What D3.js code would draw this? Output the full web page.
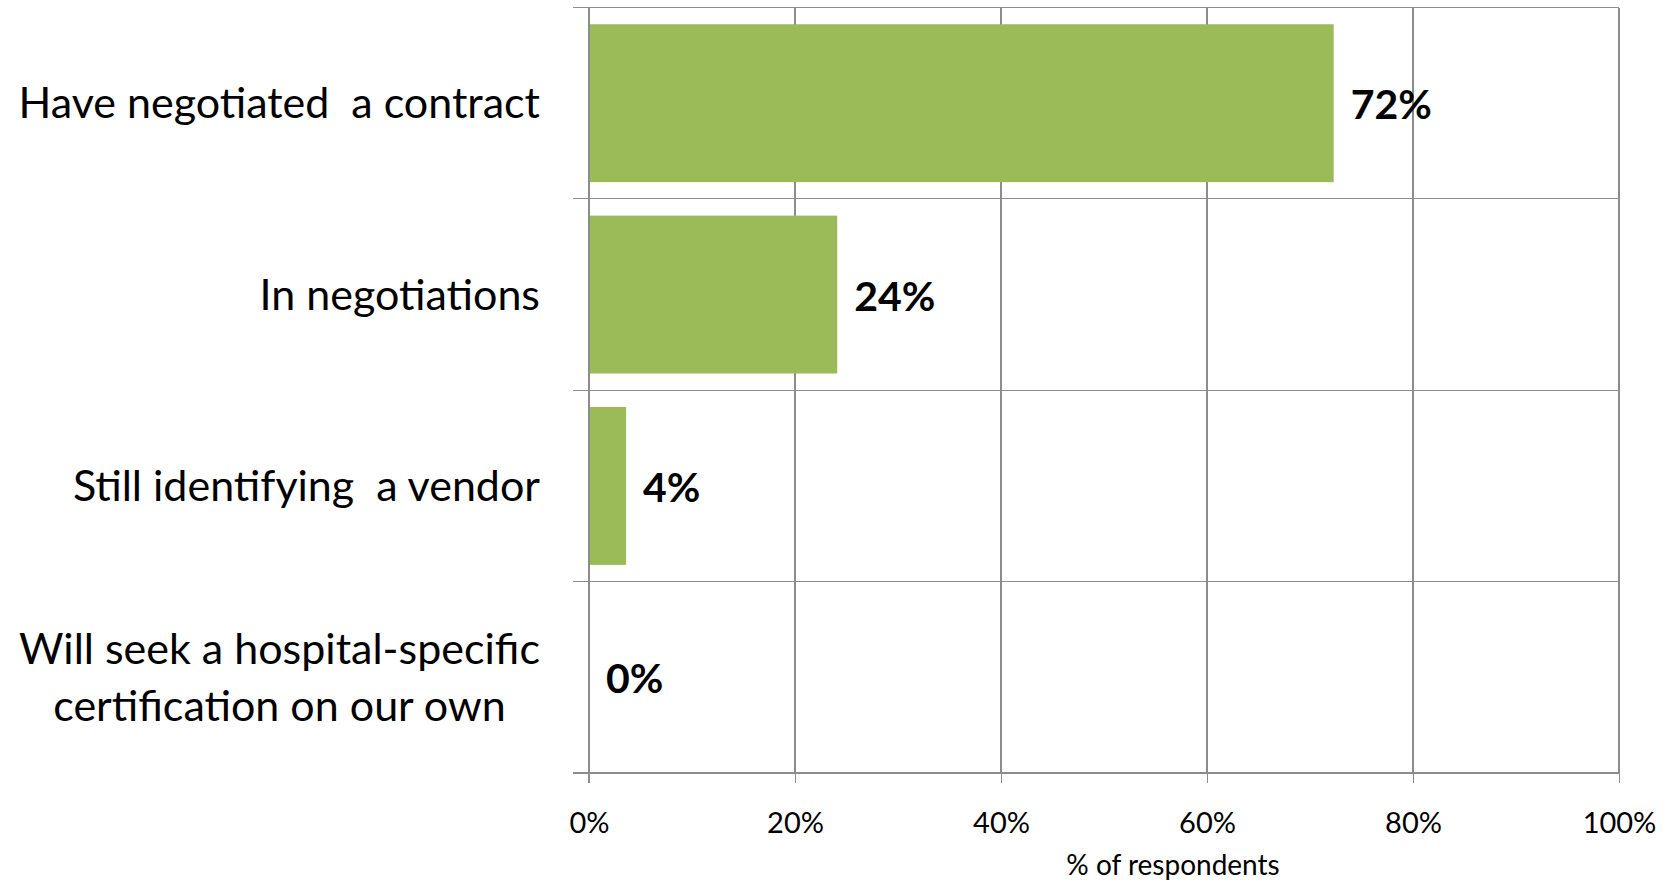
<!DOCTYPE html>
<html>
<head>
<meta charset="utf-8">
<script src="https://cdn.jsdelivr.net/npm/d3@7"></script>
<style>
  html, body { margin: 0; padding: 0; background: #fff; }
  svg { display: block; }
  text { font-family: Lato, "Open Sans", sans-serif; fill: #000; }
</style>
</head>
<body>
<svg id="chart" width="1672" height="883"></svg>
<script>
const categories = [
  ["Have negotiated  a contract"],
  ["In negotiations"],
  ["Still identifying  a vendor"],
  ["Will seek a hospital-specific", "certification on our own"]
];
const values = [72.3, 24.1, 3.6, 0];
const valueLabels = ["72%", "24%", "4%", "0%"];
const xTicks = [0, 20, 40, 60, 80, 100];
const xTickLabels = ["0%", "20%", "40%", "60%", "80%", "100%"];
const axisTitle = "% of respondents";

(function () {
const svg = d3.select("#chart");
const pLeft = 589, pRight = 1619, pTop = 7.5, pBottom = 773;
const gridColor = "#8c8c8c";
const barColor = "#9BBB59";

const x = d3.scaleLinear().domain([0, 100]).range([pLeft, pRight]);
const y = d3.scaleBand().domain(d3.range(categories.length)).range([pTop, pBottom])
  .paddingInner(0.175).paddingOuter(0.0875);
const step = y.step();

// vertical gridlines
svg.append("g").selectAll("line").data(xTicks).join("line")
  .attr("x1", d => x(d)).attr("x2", d => x(d))
  .attr("y1", pTop).attr("y2", pBottom)
  .attr("stroke", gridColor).attr("stroke-width", 1.2).attr("shape-rendering", "crispEdges");

// horizontal category separators (with outward ticks)
const sepYs = d3.range(categories.length + 1).map(i => pTop + i * step);
svg.append("g").selectAll("line").data(sepYs).join("line")
  .attr("x1", pLeft - 16).attr("x2", pRight)
  .attr("y1", d => d).attr("y2", d => d)
  .attr("stroke", gridColor).attr("stroke-width", 1.2).attr("shape-rendering", "crispEdges");

// bars
svg.append("g").selectAll("rect").data(values).join("rect")
  .attr("x", x(0)).attr("y", (d, i) => y(i))
  .attr("width", d => x(d) - x(0)).attr("height", y.bandwidth())
  .attr("fill", barColor);

// y axis line on top
svg.append("line").attr("x1", x(0)).attr("x2", x(0)).attr("y1", pTop).attr("y2", pBottom + 10)
  .attr("stroke", gridColor).attr("stroke-width", 1.2).attr("shape-rendering", "crispEdges");

// bottom axis
const xAxis = d3.axisBottom(x).tickValues(xTicks).tickFormat((d, i) => xTickLabels[i])
  .tickSize(10).tickSizeOuter(0);
const gx = svg.append("g").attr("transform", `translate(0,${pBottom})`).call(xAxis);
gx.select(".domain").remove();
gx.selectAll(".tick line").attr("stroke", gridColor).attr("stroke-width", 1.2).attr("shape-rendering", "crispEdges");
gx.selectAll(".tick text").attr("y", 60).attr("dy", 0)
  .style("font-family", "Lato, sans-serif").style("font-size", "29px").attr("fill", "#111");

// value labels
svg.append("g").selectAll("text").data(values).join("text")
  .attr("x", d => x(d) + 17)
  .attr("y", (d, i) => y(i) + y.bandwidth() / 2 + 16)
  .style("font-size", "41px").style("font-weight", "bold")
  .text((d, i) => valueLabels[i]);

// category labels
const labelRight = 540;
const catSize = 43;
const lineH = 57;
categories.forEach((lines, i) => {
  const cy = y(i) + y.bandwidth() / 2;
  const g = svg.append("g");
  const ts = g.selectAll("text").data(lines).join("text")
    .style("font-size", catSize + "px").style("white-space", "pre")
    .attr("y", (d, j) => cy + 15 + (j - (lines.length - 1) / 2) * lineH)
    .text(d => d);
  if (lines.length === 1) {
    ts.attr("x", labelRight).attr("text-anchor", "end");
  } else {
    let maxW = 0;
    ts.each(function () { maxW = Math.max(maxW, this.getComputedTextLength()); });
    ts.attr("x", labelRight - maxW / 2).attr("text-anchor", "middle");
  }
});

// axis title
svg.append("text").attr("x", 1173).attr("y", 875)
  .attr("text-anchor", "middle").style("font-size", "28px").attr("fill", "#111")
  .text(axisTitle);
})();
</script>
</body>
</html>
